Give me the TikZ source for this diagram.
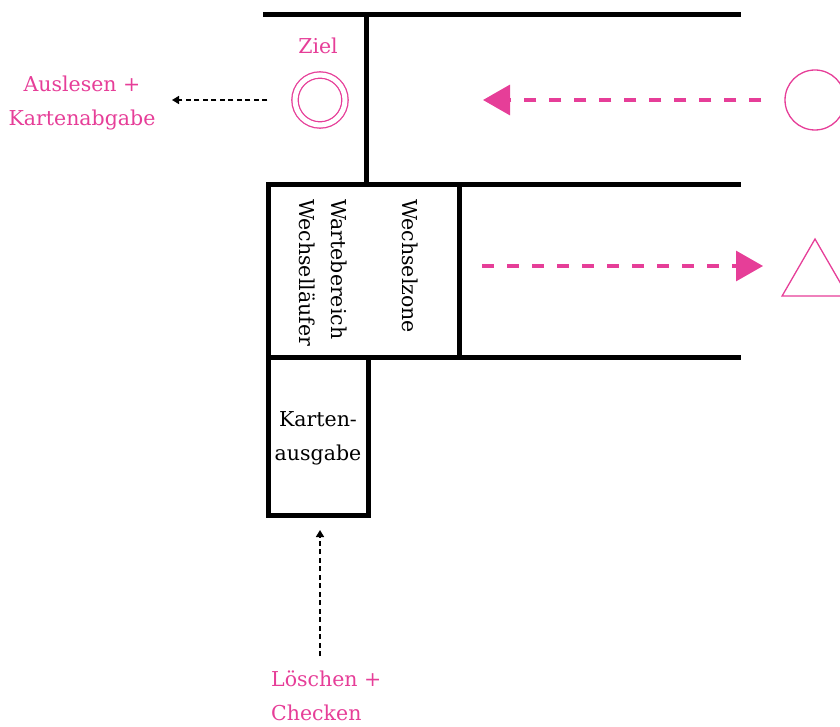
\documentclass[tikz,border=0pt]{standalone}
\usepackage{fontspec}
\setmainfont{DejaVu Serif}
\usetikzlibrary{arrows.meta,shapes.geometric}
\definecolor{pk}{RGB}{230,62,152}
\tikzset{
  wall/.style={line width=5pt,line cap=rect},
  pinklbl/.style={text=pk,font=\fontsize{20.5}{34}\selectfont,align=center,inner sep=0pt},
  blacklbl/.style={text=black,font=\fontsize{20.5}{34}\selectfont,align=center,inner sep=0pt},
  pinkarrow/.style={pk,line width=3.2pt,dash pattern=on 12pt off 13pt,-{Triangle[length=27pt,width=30pt]}},
  blackarrow/.style={black,line width=1.6pt,dash pattern=on 5pt off 3.5pt,-{Triangle[length=7pt,width=8pt]}},
}
\begin{document}
\begin{tikzpicture}[x=1pt,y=-1pt]
\useasboundingbox (0,0) rectangle (840,727);
\clip (0,0) rectangle (840,727);
% walls
\draw[wall] (265,15) -- (738,15);
\draw[wall] (366,15) -- (366,185);
\draw[wall] (268,185) -- (738,185);
\draw[wall] (268,357) -- (738,357);
\draw[wall] (459,185) -- (459,357);
\draw[wall] (268,185) -- (268,515) -- (368,515) -- (368,357);
% labels
\node[pinklbl] (ziel) at (318,46) {Ziel};
\node[circle,draw=pk,line width=1.3pt,double=white,double distance=5pt,minimum size=50pt,inner sep=0pt] (goal) at (320,100) {};
\node[pinklbl] (ausl) at (82,103) {Auslesen +\\Kartenabgabe};
\node[circle,draw=pk,line width=1.3pt,minimum size=60pt,inner sep=0pt] (start) at (815,100) {};
\node[regular polygon,regular polygon sides=3,draw=pk,line width=1.3pt,minimum size=76pt,inner sep=0pt] (tri) at (815,277) {};
\node[blacklbl,rotate=-90,anchor=west] (wz) at (410,199) {Wechselzone};
\node[blacklbl,rotate=-90,anchor=west,align=left,font=\fontsize{20.5}{32}\selectfont] (wb) at (323,199) {Wartebereich\\Wechselläufer};
\node[blacklbl] (ka) at (318,438) {Karten-\\ausgabe};
\node[pinklbl,align=left,anchor=north west] (lo) at (271,671) {Löschen +\\Checken};
% arrows
\coordinate (p1) at (483,100);
\coordinate (p2) at (763,266);
\coordinate (p3) at (482,266);
\coordinate (b1) at (172,100);
\coordinate (b2) at (320,530);
\coordinate (b3) at (320,656);
\draw[pinkarrow] (start.west) ++(-23,0) -- (p1);
\draw[pinkarrow] (p3) -- (p2);
\draw[blackarrow] (goal.west) ++(-27,0) -- (b1);
\draw[blackarrow] (b3) -- (b2);
\end{tikzpicture}
\end{document}
